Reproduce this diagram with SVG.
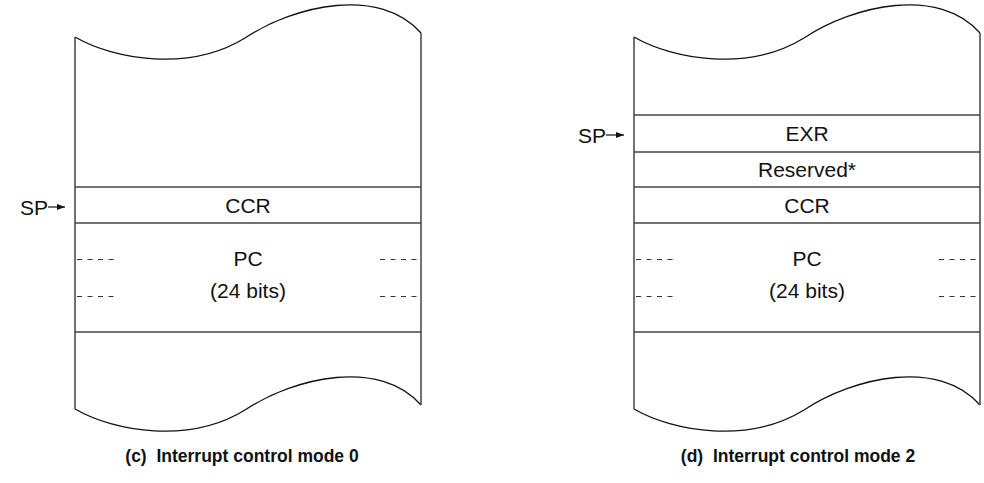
<svg xmlns="http://www.w3.org/2000/svg" width="984" height="483" viewBox="0 0 984 483">
<style>
.curve{fill:none;stroke:#111;stroke-width:1.3}
.side{fill:none;stroke:#444;stroke-width:1.5}
.hl{fill:none;stroke:#444;stroke-width:1.3}
.dash{fill:none;stroke:#333;stroke-width:1;stroke-dasharray:5 5.5}
.t{font-family:"Liberation Sans",Arial,sans-serif;font-size:21px;fill:#111;text-anchor:middle}
.sp{font-family:"Liberation Sans",Arial,sans-serif;font-size:21px;fill:#111}
.cap{font-family:"Liberation Sans",Arial,sans-serif;font-size:17.5px;font-weight:bold;fill:#111;text-anchor:middle}
.arr{stroke:#111;stroke-width:1.2}
</style>
<defs>
<marker id="ah" viewBox="0 0 8 6" refX="8" refY="3" markerWidth="8" markerHeight="6" markerUnits="userSpaceOnUse" orient="auto">
<path d="M0,0 L8,3 L0,6 Z" fill="#111"/>
</marker>
<path id="wave" d="M0,0 C40,23 115,35 170,1 C220,-32 305,-51 346,-4"/>
</defs>
<g id="stack-c">
<use href="#wave" x="75" y="37" class="curve"/>
<use href="#wave" x="75" y="409" class="curve"/>
<path class="side" d="M75,37 V409 M421,33 V405"/>
<path class="hl" d="M75,187 H421 M75,223 H421 M75,332 H421"/>
<path class="dash" d="M77,259.5 H115 M380,259.5 H418 M77,296.5 H115 M380,296.5 H418"/>
<text class="t" x="248" y="212.5">CCR</text>
<text class="t" x="248" y="266">PC</text>
<text class="t" x="248" y="298">(24 bits)</text>
</g>
<g id="stack-d">
<use href="#wave" x="634" y="37" class="curve"/>
<use href="#wave" x="634" y="409" class="curve"/>
<path class="side" d="M634,37 V409 M980,33 V405"/>
<path class="hl" d="M634,115 H980 M634,152 H980 M634,187 H980 M634,223 H980 M634,332 H980"/>
<path class="dash" d="M636,259.5 H674 M939,259.5 H977 M636,296.5 H674 M939,296.5 H977"/>
<text class="t" x="807" y="141">EXR</text>
<text class="t" x="807" y="177">Reserved*</text>
<text class="t" x="807" y="212.5">CCR</text>
<text class="t" x="807" y="266">PC</text>
<text class="t" x="807" y="298">(24 bits)</text>
</g>
<g id="sp-c">
<text class="sp" x="20" y="214.5">SP</text>
</g>
<g id="sp-d">
<text class="sp" x="578" y="142.5">SP</text>
</g>
<g id="connectors">
<line class="arr" x1="48" y1="207" x2="65" y2="207" marker-end="url(#ah)"/>
<line class="arr" x1="606" y1="135" x2="624" y2="135" marker-end="url(#ah)"/>
</g>
<g id="captions">
<text class="cap" x="242" y="462" xml:space="preserve">(c)  Interrupt control mode 0</text>
<text class="cap" x="798" y="462" xml:space="preserve">(d)  Interrupt control mode 2</text>
</g>
</svg>
